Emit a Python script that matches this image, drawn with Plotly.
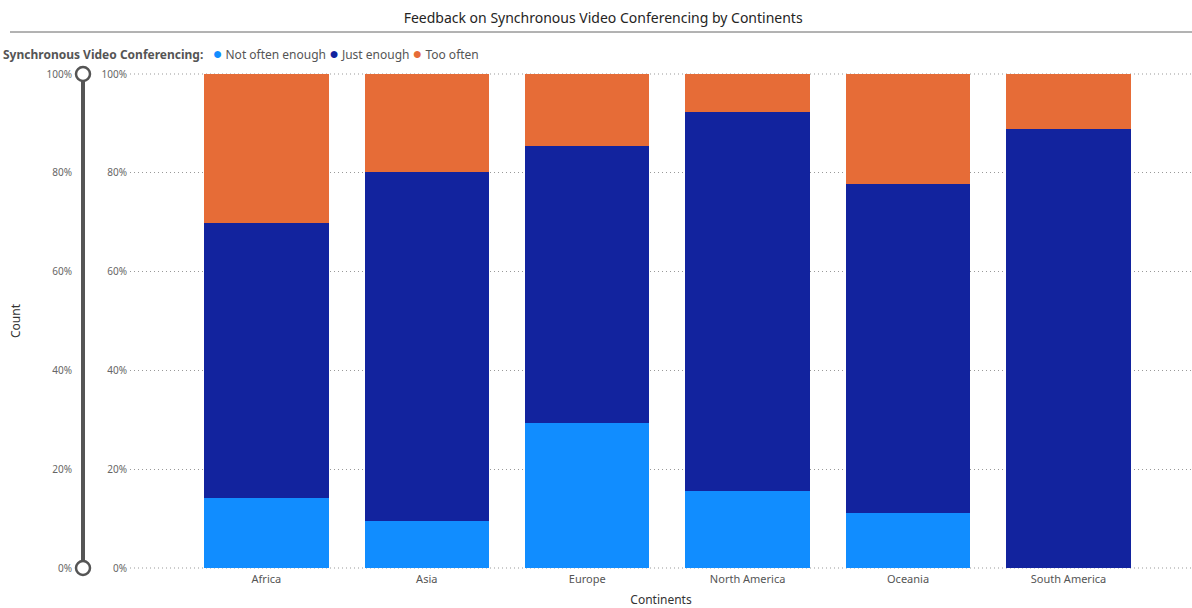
import plotly.graph_objects as go

continents = ['Africa', 'Asia', 'Europe', 'North America', 'Oceania', 'South America']
not_often_enough = [0.142, 0.095, 0.294, 0.156, 0.111, 0.0]
just_enough = [0.556, 0.707, 0.560, 0.767, 0.666, 0.889]
too_often = [0.302, 0.198, 0.146, 0.077, 0.223, 0.111]

series = [
	('Not often enough', not_often_enough, '#118DFF'),
	('Just enough', just_enough, '#12239E'),
	('Too often', too_often, '#E66C37'),
]

W, H = 1192, 608
font = 'Segoe UI, Noto Sans, sans-serif'
slider_x = 83/W
plot_h = 494
x_start = 130/W

fig = go.Figure()
for name, vals, color in series:
	fig.add_trace(go.Bar(
		x = continents,
		y = vals,
		name = name,
		marker = dict(color=color, line=dict(width=0)),
		width = 0.775,
	))

fig.update_layout(
	width = W,
	height = H,
	barmode = 'stack',
	bargap = 0,
	showlegend = False,
	plot_bgcolor = 'white',
	paper_bgcolor = 'white',
	font = dict(family=font, color='#555'),
	margin = dict(l=0, r=0, t=74, b=40, autoexpand=False),
	title = dict(
		text = 'Feedback on Synchronous Video Conferencing by Continents',
		x = 0.506,
		xanchor = 'center',
		y = 1-18/H,
		yanchor = 'middle',
		font = dict(size=14, color='#252423', family='DIN, Noto Sans, sans-serif'),
	),
	xaxis = dict(
		domain = [x_start, 1],
		range = [-0.85, 5.77],
		showgrid = False,
		automargin = False,
		tickfont = dict(size=11, color='#555'),
		ticklabelstandoff = 3,
		title = dict(text='Continents', font=dict(size=12, color='#333'), standoff=10),
		ticks = '',
	),
	yaxis = dict(
		range = [0, 1],
		tickvals = [0, 0.2, 0.4, 0.6, 0.8, 1.0],
		tickformat = '.0%',
		showgrid = True,
		gridcolor = '#999',
		griddash = '1px,3px',
		gridwidth = 1,
		zeroline = False,
		automargin = False,
		tickfont = dict(size=10, color='#666'),
		ticklabelstandoff = 2,
	),
	yaxis2 = dict(
		overlaying = 'y',
		anchor = 'free',
		position = slider_x,
		side = 'left',
		range = [0, 1],
		tickvals = [0, 0.2, 0.4, 0.6, 0.8, 1.0],
		tickformat = '.0%',
		showgrid = False,
		zeroline = False,
		showline = False,
		automargin = False,
		tickfont = dict(size=10, color='#666'),
		ticklabelstandoff = 11,
		title = dict(text='Count', font=dict(size=12, color='#333'), standoff=22),
	),
)

# dummy trace so yaxis2 renders
fig.add_trace(go.Scatter(x=[None], y=[None], yaxis='y2', showlegend=False, hoverinfo='skip'))

# dotted gridlines at 0% and 100% (plotly drops gridlines on the plot edges)
for yv in [0, 1]:
	fig.add_shape(
		type = 'line',
		xref = 'paper', yref = 'paper',
		x0 = x_start, x1 = 1, y0 = yv, y1 = yv,
		line = dict(color='#999', width=1, dash='1px,3px'),
		layer = 'below',
	)

# zoom slider: bar and end handles
fig.add_shape(
	type = 'line',
	xref = 'paper', yref = 'paper',
	x0 = slider_x, x1 = slider_x, y0 = 0, y1 = 1,
	line = dict(color='#555', width=4),
)
for yv in [0, 1]:
	fig.add_shape(
		type = 'circle',
		xref = 'paper', yref = 'paper',
		xsizemode = 'pixel', ysizemode = 'pixel',
		xanchor = slider_x, yanchor = yv,
		x0 = -7, x1 = 7, y0 = -7, y1 = 7,
		fillcolor = 'white',
		line = dict(color='#555', width=2.5),
	)

# line under the title
fig.add_shape(
	type = 'line',
	xref = 'paper', yref = 'paper',
	x0 = 10/W, x1 = 1,
	y0 = 1+42/plot_h, y1 = 1+42/plot_h,
	line = dict(color='#666', width=1),
)

# legend line, Power BI style
legend_text = '<b>Synchronous Video Conferencing:</b>   ' + ' '.join(
	f'<span style="color:{color};font-size:16px">●</span> {name}' for name, vals, color in series
)
fig.add_annotation(
	text = legend_text,
	xref = 'paper', yref = 'paper',
	x = 1/W, y = 1+21/plot_h,
	xanchor = 'left', yanchor = 'middle',
	showarrow = False,
	font = dict(size=12, color='#555'),
)

fig.write_html(
	'out.html',
	config = {'displayModeBar': False},
	post_script = "document.body.style.margin='0';document.body.style.overflow='hidden';",
)
